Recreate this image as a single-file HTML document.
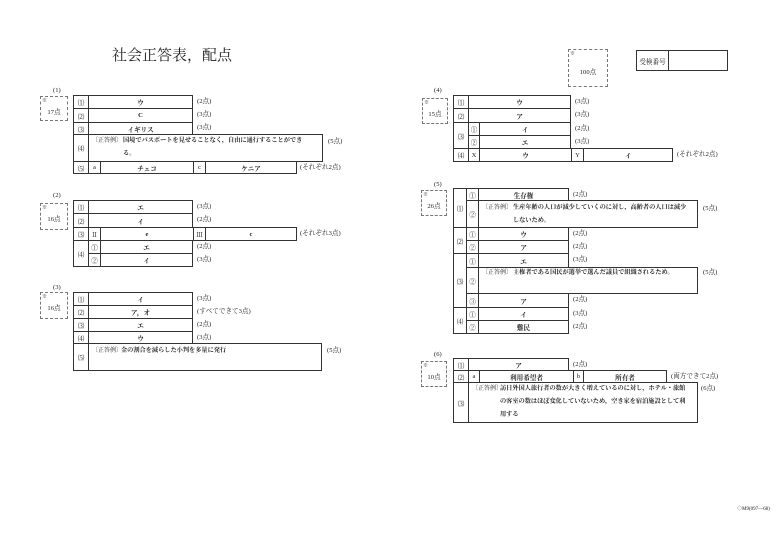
<!DOCTYPE html>
<html><head><meta charset="utf-8">
<style>
body{margin:0;width:780px;height:551px;background:#fff;position:relative;overflow:hidden;font-family:"Liberation Serif","Noto Serif CJK SC",serif;color:#222}
.c{position:absolute;border:1px solid #333;box-sizing:border-box;display:flex;align-items:center;justify-content:center;font-size:6.6px;font-weight:bold}
.n{font-weight:normal}
.t{position:absolute;font-size:6.6px;white-space:nowrap;line-height:8px}
.b{font-weight:bold;font-size:6.2px}
.l{font-size:6px}
.d{position:absolute;border:1px dashed #777;box-sizing:border-box;font-size:6.6px}
.d span{position:absolute;left:1px;top:0;font-size:5px}
.d i{position:absolute;font-style:normal;left:0;right:0;text-align:center}
</style></head><body>
<div class="t" style="left:112px;top:47px;font-size:15px;line-height:18px">社会正答表，配点</div>

<!-- (1) -->
<div class="t" style="left:53px;top:87px">(1)</div>
<div class="d" style="left:40px;top:96px;width:28px;height:25px"><span>※</span><i style="top:9px">17点</i></div>
<div class="c n" style="left:73px;top:95px;width:16px;height:14px">⑴</div>
<div class="c" style="left:88px;top:95px;width:105px;height:14px">ウ</div>
<div class="c n" style="left:73px;top:108px;width:16px;height:15px">⑵</div>
<div class="c" style="left:88px;top:108px;width:105px;height:15px">C</div>
<div class="c n" style="left:73px;top:122px;width:16px;height:13px">⑶</div>
<div class="c" style="left:88px;top:122px;width:105px;height:13px">イギリス</div>
<div class="c n" style="left:73px;top:134px;width:16px;height:28px">⑷</div>
<div class="c" style="left:88px;top:134px;width:235px;height:28px"></div>
<div class="t l" style="left:92px;top:137px">〔正答例〕</div>
<div class="t b" style="left:123px;top:137px">国境でパスポートを見せることなく，自由に通行することができ</div>
<div class="t b" style="left:123px;top:150px">る。</div>
<div class="c n" style="left:73px;top:161px;width:16px;height:13px">⑸</div>
<div class="c n" style="left:88px;top:161px;width:13px;height:13px">a</div>
<div class="c" style="left:100px;top:161px;width:94px;height:13px">チェコ</div>
<div class="c n" style="left:193px;top:161px;width:13px;height:13px">c</div>
<div class="c" style="left:205px;top:161px;width:92px;height:13px">ケニア</div>
<div class="t" style="left:197px;top:98px">(2点)</div>
<div class="t" style="left:197px;top:111px">(3点)</div>
<div class="t" style="left:197px;top:124px">(3点)</div>
<div class="t" style="left:328px;top:138px">(5点)</div>
<div class="t" style="left:300px;top:164px">(それぞれ2点)</div>

<!-- (2) -->
<div class="t" style="left:53px;top:192px">(2)</div>
<div class="d" style="left:40px;top:203px;width:28px;height:27px"><span>※</span><i style="top:9px">16点</i></div>
<div class="c n" style="left:73px;top:200px;width:16px;height:14px">⑴</div>
<div class="c" style="left:88px;top:200px;width:105px;height:14px">エ</div>
<div class="c n" style="left:73px;top:213px;width:16px;height:15px">⑵</div>
<div class="c" style="left:88px;top:213px;width:105px;height:15px">イ</div>
<div class="c n" style="left:73px;top:227px;width:16px;height:14px">⑶</div>
<div class="c n" style="left:88px;top:227px;width:13px;height:14px">Ⅱ</div>
<div class="c" style="left:100px;top:227px;width:94px;height:14px">e</div>
<div class="c n" style="left:193px;top:227px;width:13px;height:14px">Ⅲ</div>
<div class="c" style="left:205px;top:227px;width:92px;height:14px">c</div>
<div class="c n" style="left:73px;top:240px;width:16px;height:27px">⑷</div>
<div class="c n" style="left:88px;top:240px;width:13px;height:14px">①</div>
<div class="c" style="left:100px;top:240px;width:93px;height:14px">エ</div>
<div class="c n" style="left:88px;top:253px;width:13px;height:14px">②</div>
<div class="c" style="left:100px;top:253px;width:93px;height:14px">イ</div>
<div class="t" style="left:197px;top:203px">(3点)</div>
<div class="t" style="left:197px;top:216px">(2点)</div>
<div class="t" style="left:300px;top:230px">(それぞれ3点)</div>
<div class="t" style="left:197px;top:243px">(2点)</div>
<div class="t" style="left:197px;top:256px">(3点)</div>

<!-- (3) -->
<div class="t" style="left:53px;top:284px">(3)</div>
<div class="d" style="left:40px;top:292px;width:28px;height:27px"><span>※</span><i style="top:9px">16点</i></div>
<div class="c n" style="left:73px;top:292px;width:16px;height:14px">⑴</div>
<div class="c" style="left:88px;top:292px;width:105px;height:14px">イ</div>
<div class="c n" style="left:73px;top:305px;width:16px;height:14px">⑵</div>
<div class="c" style="left:88px;top:305px;width:105px;height:14px">ア，オ</div>
<div class="c n" style="left:73px;top:318px;width:16px;height:14px">⑶</div>
<div class="c" style="left:88px;top:318px;width:105px;height:14px">エ</div>
<div class="c n" style="left:73px;top:331px;width:16px;height:13px">⑷</div>
<div class="c" style="left:88px;top:331px;width:105px;height:13px">ウ</div>
<div class="c n" style="left:73px;top:343px;width:16px;height:28px">⑸</div>
<div class="c" style="left:88px;top:343px;width:234px;height:28px"></div>
<div class="t l" style="left:92px;top:347px">〔正答例〕</div>
<div class="t b" style="left:121px;top:347px">金の割合を減らした小判を多量に発行</div>
<div class="t" style="left:197px;top:295px">(3点)</div>
<div class="t" style="left:197px;top:308px">(すべてできて3点)</div>
<div class="t" style="left:197px;top:321px">(2点)</div>
<div class="t" style="left:197px;top:334px">(3点)</div>
<div class="t" style="left:327px;top:347px">(5点)</div>

<!-- top right -->
<div class="d" style="left:568px;top:49px;width:40px;height:38px"><span>※</span><i style="top:16px">100点</i></div>
<div class="c n" style="left:636px;top:50px;width:33px;height:21px;font-weight:normal">受検番号</div>
<div class="c" style="left:668px;top:50px;width:60px;height:21px"></div>

<!-- (4) -->
<div class="t" style="left:434px;top:87px">(4)</div>
<div class="d" style="left:422px;top:98px;width:26px;height:26px"><span>※</span><i style="top:9px">15点</i></div>
<div class="c n" style="left:453px;top:95px;width:16px;height:14px">⑴</div>
<div class="c" style="left:468px;top:95px;width:103px;height:14px">ウ</div>
<div class="c n" style="left:453px;top:108px;width:16px;height:15px">⑵</div>
<div class="c" style="left:468px;top:108px;width:103px;height:15px">ア</div>
<div class="c n" style="left:453px;top:122px;width:16px;height:27px">⑶</div>
<div class="c n" style="left:468px;top:122px;width:12px;height:14px">①</div>
<div class="c" style="left:479px;top:122px;width:92px;height:14px">イ</div>
<div class="c n" style="left:468px;top:135px;width:12px;height:14px">②</div>
<div class="c" style="left:479px;top:135px;width:92px;height:14px">エ</div>
<div class="c n" style="left:453px;top:148px;width:16px;height:14px">⑷</div>
<div class="c n" style="left:468px;top:148px;width:12px;height:14px">X</div>
<div class="c" style="left:479px;top:148px;width:93px;height:14px">ウ</div>
<div class="c n" style="left:571px;top:148px;width:13px;height:14px">Y</div>
<div class="c" style="left:583px;top:148px;width:90px;height:14px">イ</div>
<div class="t" style="left:575px;top:98px">(3点)</div>
<div class="t" style="left:575px;top:111px">(3点)</div>
<div class="t" style="left:575px;top:125px">(2点)</div>
<div class="t" style="left:575px;top:138px">(3点)</div>
<div class="t" style="left:677px;top:151px">(それぞれ2点)</div>

<!-- (5) -->
<div class="t" style="left:434px;top:181px">(5)</div>
<div class="d" style="left:421px;top:190px;width:26px;height:26px"><span>※</span><i style="top:9px">26点</i></div>
<div class="c n" style="left:453px;top:188px;width:14px;height:40px">⑴</div>
<div class="c n" style="left:466px;top:188px;width:13px;height:13px">①</div>
<div class="c" style="left:478px;top:188px;width:91px;height:13px">生存権</div>
<div class="c n" style="left:466px;top:200px;width:13px;height:28px">②</div>
<div class="c" style="left:478px;top:200px;width:220px;height:28px"></div>
<div class="t l" style="left:482px;top:204px">〔正答例〕</div>
<div class="t b" style="left:513px;top:204px">生産年齢の人口が減少していくのに対し，高齢者の人口は減少</div>
<div class="t b" style="left:513px;top:217px">しないため。</div>
<div class="c n" style="left:453px;top:227px;width:14px;height:27px">⑵</div>
<div class="c n" style="left:466px;top:227px;width:13px;height:14px">①</div>
<div class="c" style="left:478px;top:227px;width:91px;height:14px">ウ</div>
<div class="c n" style="left:466px;top:240px;width:13px;height:14px">②</div>
<div class="c" style="left:478px;top:240px;width:91px;height:14px">ア</div>
<div class="c n" style="left:453px;top:253px;width:14px;height:55px">⑶</div>
<div class="c n" style="left:466px;top:253px;width:13px;height:15px">①</div>
<div class="c" style="left:478px;top:253px;width:91px;height:15px">エ</div>
<div class="c n" style="left:466px;top:267px;width:13px;height:27px">②</div>
<div class="c" style="left:478px;top:267px;width:220px;height:27px"></div>
<div class="t l" style="left:482px;top:269px">〔正答例〕</div>
<div class="t b" style="left:513px;top:269px">主権者である国民が選挙で選んだ議員で組織されるため。</div>
<div class="c n" style="left:466px;top:293px;width:13px;height:15px">③</div>
<div class="c" style="left:478px;top:293px;width:91px;height:15px">ア</div>
<div class="c n" style="left:453px;top:307px;width:14px;height:27px">⑷</div>
<div class="c n" style="left:466px;top:307px;width:13px;height:14px">①</div>
<div class="c" style="left:478px;top:307px;width:91px;height:14px">イ</div>
<div class="c n" style="left:466px;top:320px;width:13px;height:14px">②</div>
<div class="c" style="left:478px;top:320px;width:91px;height:14px">難民</div>
<div class="t" style="left:573px;top:191px">(2点)</div>
<div class="t" style="left:703px;top:205px">(5点)</div>
<div class="t" style="left:573px;top:230px">(2点)</div>
<div class="t" style="left:573px;top:243px">(2点)</div>
<div class="t" style="left:573px;top:256px">(3点)</div>
<div class="t" style="left:703px;top:269px">(5点)</div>
<div class="t" style="left:573px;top:296px">(2点)</div>
<div class="t" style="left:573px;top:310px">(3点)</div>
<div class="t" style="left:573px;top:323px">(2点)</div>

<!-- (6) -->
<div class="t" style="left:434px;top:351px">(6)</div>
<div class="d" style="left:421px;top:361px;width:26px;height:26px"><span>※</span><i style="top:9px">10点</i></div>
<div class="c n" style="left:453px;top:358px;width:16px;height:13px">⑴</div>
<div class="c" style="left:468px;top:358px;width:101px;height:13px">ア</div>
<div class="c n" style="left:453px;top:370px;width:16px;height:13px">⑵</div>
<div class="c n" style="left:468px;top:370px;width:12px;height:13px">a</div>
<div class="c" style="left:479px;top:370px;width:95px;height:13px">利用希望者</div>
<div class="c n" style="left:573px;top:370px;width:11px;height:13px">b</div>
<div class="c" style="left:583px;top:370px;width:84px;height:13px">所有者</div>
<div class="c n" style="left:453px;top:382px;width:16px;height:41px">⑶</div>
<div class="c" style="left:468px;top:382px;width:230px;height:41px"></div>
<div class="t l" style="left:472px;top:385px">〔正答例〕</div>
<div class="t b" style="left:500px;top:385px">訪日外国人旅行者の数が大きく増えているのに対し，ホテル・旅館</div>
<div class="t b" style="left:500px;top:398px">の客室の数はほぼ変化していないため，空き家を宿泊施設として利</div>
<div class="t b" style="left:500px;top:411px">用する</div>
<div class="t" style="left:573px;top:361px">(2点)</div>
<div class="t" style="left:671px;top:373px">(両方できて2点)</div>
<div class="t" style="left:701px;top:385px">(6点)</div>

<div class="t" style="left:737px;top:506px;font-size:5px">◇M9(097—68)</div>
</body></html>
